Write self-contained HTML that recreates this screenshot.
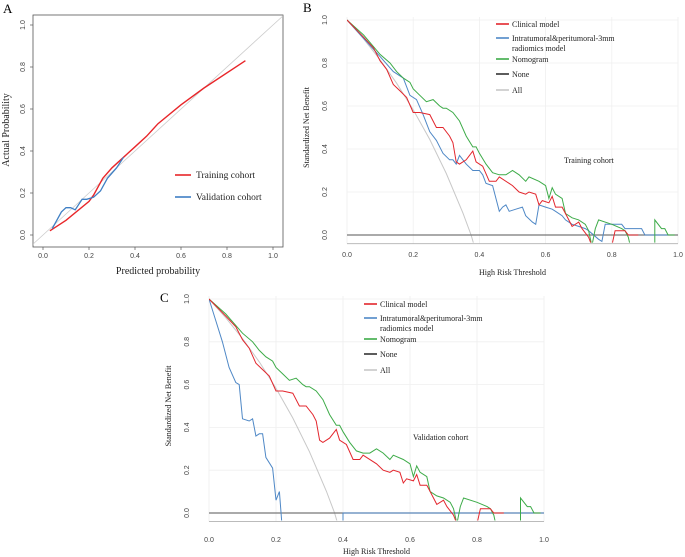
<!DOCTYPE html>
<html><head><meta charset="utf-8">
<style>
html,body{margin:0;padding:0;background:#fff;}
svg{display:block;font-family:"Liberation Serif",serif;}
.tk{font-family:"Liberation Sans",sans-serif;font-size:7px;fill:#444;}
</style></head>
<body>
<svg id="fig" width="685" height="557" viewBox="0 0 685 557" xmlns="http://www.w3.org/2000/svg"></svg>
<script>
// ---- Panel A data ----
const calTicks = [0, 0.2, 0.4, 0.6, 0.8, 1.0];
const calTickLabels = ["0.0","0.2","0.4","0.6","0.8","1.0"];
const trainX = [0.03,0.1,0.2,0.22,0.26,0.3,0.35,0.4,0.45,0.5,0.6,0.7,0.88];
const trainY = [0.02,0.07,0.16,0.19,0.27,0.32,0.37,0.42,0.47,0.53,0.62,0.70,0.83];
const validX = [0.04,0.08,0.1,0.12,0.14,0.17,0.19,0.22,0.25,0.28,0.32,0.35];
const validY = [0.03,0.11,0.13,0.13,0.12,0.17,0.17,0.18,0.21,0.27,0.32,0.37];
// ---- DCA data ----
const dcaTicks = [0,0.2,0.4,0.6,0.8,1.0];
const dcaTickLabels = ["0.0","0.2","0.4","0.6","0.8","1.0"];
const clinX = [0,.05,.08,.1,.12,.14,.16,.18,.2,.22,.25,.27,.29,.31,.32,.33,.34,.36,.38,.39,.41,.43,.44,.45,.46,.5,.52,.54,.55,.57,.58,.59,.61,.62,.63,.65,.67,.68,.7,.71,.73,.74,.78,.8,.81,.84,.85,.88];
const clinY = [1,.92,.87,.81,.77,.70,.67,.64,.57,.57,.56,.50,.50,.46,.43,.34,.33,.35,.39,.34,.32,.25,.25,.25,.27,.23,.20,.19,.20,.19,.14,.16,.15,.18,.13,.13,.07,.04,.06,.03,-.01,-.05,-.05,-.05,.02,.02,0,0];
const radTrainX = [0,.1,.14,.17,.19,.21,.23,.25,.27,.29,.31,.32,.33,.34,.36,.38,.4,.41,.42,.44,.46,.47,.48,.49,.51,.53,.54,.56,.57,.58,.6,.62,.63,.65,.66,.68,.7,.72,.73,.76,.77,.78,.83,.84,.89,.9,.97];
const radTrainY = [1,.83,.76,.73,.65,.63,.56,.48,.44,.38,.35,.35,.33,.37,.33,.30,.30,.28,.24,.23,.11,.13,.14,.11,.12,.13,.09,.06,.05,.14,.13,.12,.11,.09,.07,.05,.04,.03,.02,-.02,-.03,.05,.05,.03,.03,0,0];
const nomoX = [0,.05,.1,.13,.15,.17,.19,.2,.22,.24,.26,.28,.29,.3,.32,.34,.36,.38,.39,.4,.42,.44,.46,.48,.5,.52,.54,.55,.58,.6,.61,.62,.63,.65,.66,.68,.7,.72,.73,.74,.75,.76,.8,.83,.84,.85,.86,.93,.93,.95,.96,.97,.99];
const nomoY = [1,.93,.84,.80,.76,.73,.71,.68,.65,.62,.63,.60,.59,.59,.57,.53,.46,.41,.41,.38,.33,.29,.28,.28,.30,.28,.25,.27,.25,.23,.17,.22,.19,.17,.10,.08,.07,.05,.02,-.05,.03,.07,.05,.03,.02,-.01,-.08,-.08,.07,.03,.03,0,0];
const allX = [0,.05,.1,.15,.2,.25,.3,.35,.375,.39];
const allY = [1,.912,.815,.706,.583,.444,.286,.103,0,-.08];
const radValX = [0,.02,.04,.06,.08,.09,.1,.12,.13,.14,.15,.16,.17,.19,.2,.21,.22,.4,.4,1.0];
const radValY = [1,.9,.8,.68,.61,.6,.44,.43,.44,.36,.37,.37,.26,.21,.06,.1,-.1,-.1,0,0];
const legendLabels = ["Clinical model","Intratumoral&peritumoral-3mm","radiomics model","Nomogram","None","All"];

const svg = document.getElementById('fig');
const NS = "http://www.w3.org/2000/svg";
function mk(tag, attrs, parent){const e=document.createElementNS(NS,tag);for(const k in attrs)e.setAttribute(k,attrs[k]);(parent||svg).appendChild(e);return e;}
function txt(x,y,s,cls,extra,parent){const t=mk('text',Object.assign({x:x,y:y},extra||{}),parent);if(cls)t.setAttribute('class',cls);t.textContent=s;return t;}
function scale(d0,d1,r0,r1){return v=>r0+(v-d0)/(d1-d0)*(r1-r0);}
function pathFrom(xs,ys,sx,sy){return xs.map((v,i)=>(i?'L':'M')+sx(v).toFixed(1)+' '+sy(ys[i]).toFixed(1)).join(' ');}

// ---------- Panel A ----------
(function(){
  const g=mk('g',{});
  
  
  const sx=scale(0,1,43,273), sy=scale(0,1,235,25);
  const pl=txt(3,13,'A',null,{'font-size':'13'},g);
  
  mk('defs',{},g).innerHTML='<clipPath id="ca"><rect x="33" y="15" width="250" height="232"/></clipPath>';
  const box=mk('rect',{x:33,y:15,width:250,height:232,fill:'none',stroke:'#555','stroke-width':0.8},g);
  
  const diag=mk('line',{x1:sx(-0.05),y1:sy(-0.05),x2:sx(1.05),y2:sy(1.05),stroke:'#ccc','stroke-width':0.8,'clip-path':'url(#ca)'},g);
  
  calTicks.forEach((v,i)=>{
    mk('line',{x1:sx(v),y1:247,x2:sx(v),y2:250,stroke:'#555','stroke-width':0.7},g);
    const t=txt(sx(v),258,calTickLabels[i],'tk',{'text-anchor':'middle'},g);
    
    mk('line',{x1:30,y1:sy(v),x2:33,y2:sy(v),stroke:'#555','stroke-width':0.7},g);
    const ty=txt(0,0,calTickLabels[i],'tk',{'text-anchor':'middle',transform:`translate(25,${sy(v)}) rotate(-90)`},g);
    
  });
  const xt=txt(158,274,'Predicted probability',null,{'font-size':'10','text-anchor':'middle',fill:'#222'},g);
  
  const yt=txt(0,0,'Actual Probability',null,{'font-size':'10','text-anchor':'middle',fill:'#222',transform:'translate(9,130) rotate(-90)'},g);
  
  const r=mk('path',{d:pathFrom(trainX,trainY,sx,sy),fill:'none',stroke:'#e8262a','stroke-width':1.4},g);
  
  const b=mk('path',{d:pathFrom(validX,validY,sx,sy),fill:'none',stroke:'#3f7fc4','stroke-width':1.3},g);
  
  const le1=mk('line',{x1:175,y1:175,x2:191,y2:175,stroke:'#e8262a','stroke-width':1.6},g);
  
  const lt1=txt(196,178,'Training cohort',null,{'font-size':'9.5',fill:'#222'},g);
  
  const le2=mk('line',{x1:175,y1:197,x2:191,y2:197,stroke:'#3f7fc4','stroke-width':1.6},g);
  
  const lt2=txt(196,200,'Validation cohort',null,{'font-size':'9.5',fill:'#222'},g);
  
})();

// ---------- DCA panels ----------
function dca(o){
  const g=mk('g',{});
  
  
  const sx=scale(0,1,o.x0,o.x1), sy=scale(0,1,o.y0,o.y1);
  const bottom=sy(-0.04), top=sy(1.0)-3, right=sx(1.0);
  const cid='c'+o.letter;
  mk('defs',{},g).innerHTML=`<clipPath id="${cid}"><rect x="${o.x0}" y="${top-5}" width="${right-o.x0+5}" height="${bottom-top+4}"/></clipPath>`;
  const lab=txt(o.lx,o.ly,o.letter,null,{'font-size':'13'},g);
  
  dcaTicks.forEach((v,i)=>{
    const gl=mk('line',{x1:sx(v),y1:top,x2:sx(v),y2:bottom,stroke:'#efefef','stroke-width':0.8},g);
    
    const gh=mk('line',{x1:o.x0,y1:sy(v),x2:right,y2:sy(v),stroke:'#efefef','stroke-width':0.8},g);
    
    const t=txt(sx(v),o.tickY,dcaTickLabels[i],'tk',{'text-anchor':'middle','font-size':'6.5'},g);
    
    const ty=txt(0,0,dcaTickLabels[i],'tk',{'text-anchor':'middle','font-size':'6.5',transform:`translate(${o.x0-20},${sy(v)}) rotate(-90)`},g);
    
  });
  const bl=mk('line',{x1:o.x0,y1:bottom,x2:right,y2:bottom,stroke:'#bbb','stroke-width':1},g);
  
  const all=mk('path',{d:pathFrom(allX,allY,sx,sy),fill:'none',stroke:'#c8c8c8','stroke-width':1,'clip-path':`url(#${cid})`},g);
  
  const none=mk('line',{x1:o.x0,y1:sy(0),x2:right,y2:sy(0),stroke:'#777','stroke-width':1.2},g);
  
  const rad=mk('path',{d:pathFrom(o.radX,o.radY,sx,sy),fill:'none',stroke:'#4f88c6','stroke-width':1,'clip-path':`url(#${cid})`},g);
  
  const nom=mk('path',{d:pathFrom(nomoX,nomoY,sx,sy),fill:'none',stroke:'#3dab48','stroke-width':1,'clip-path':`url(#${cid})`},g);
  
  const cl=mk('path',{d:pathFrom(clinX,clinY,sx,sy),fill:'none',stroke:'#e3262d','stroke-width':1,'clip-path':`url(#${cid})`},g);
  
  const xt=txt((o.x0+right)/2,o.xtY,'High Risk Threshold',null,{'font-size':'8','text-anchor':'middle',fill:'#222'},g);
  
  const yt=txt(0,0,'Standardized Net Benefit',null,{'font-size':'8','text-anchor':'middle',fill:'#222',transform:`translate(${o.x0-38},${sy(0.5)}) rotate(-90)`},g);
  
  const cols=['#e3262d','#4f88c6','#3dab48','#333','#c8c8c8'];
  const ys=[o.ly0, o.ly0+14, o.ly0+35, o.ly0+50, o.ly0+66];
  const names=['legend-entry-clinical','legend-entry-radiomics','legend-entry-nomogram','legend-entry-none','legend-entry-all'];
  [0,1,2,3,4].forEach(i=>{
    const s=mk('line',{x1:o.legX,y1:ys[i],x2:o.legX+13,y2:ys[i],stroke:cols[i],'stroke-width':1.6},g);
    
  });
  const labIdx=[0,1,3,4,5];
  labIdx.forEach((li,i)=>{
    const t=txt(o.legX+16,ys[i]+3,legendLabels[li],null,{'font-size':'8',fill:'#222'},g);
    
  });
  const t2=txt(o.legX+16,ys[1]+13,legendLabels[2],null,{'font-size':'8',fill:'#222'},g);
  
  const ct=txt(o.cohX,o.cohY,o.cohort,null,{'font-size':'8',fill:'#222'},g);
  
}
dca({name:'dca-training-panel',letter:'B',lx:303,ly:12,x0:347,x1:678,y0:235,y1:20,tickY:257,xtY:275,
  radX:radTrainX,radY:radTrainY,legX:496,ly0:24,cohX:564,cohY:163,cohort:'Training cohort'});
dca({name:'dca-validation-panel',letter:'C',lx:160,ly:302,x0:209,x1:544,y0:513,y1:299,tickY:542,xtY:554,
  radX:radValX,radY:radValY,legX:364,ly0:304,cohX:413,cohY:440,cohort:'Validation cohort'});
</script>
</body></html>
